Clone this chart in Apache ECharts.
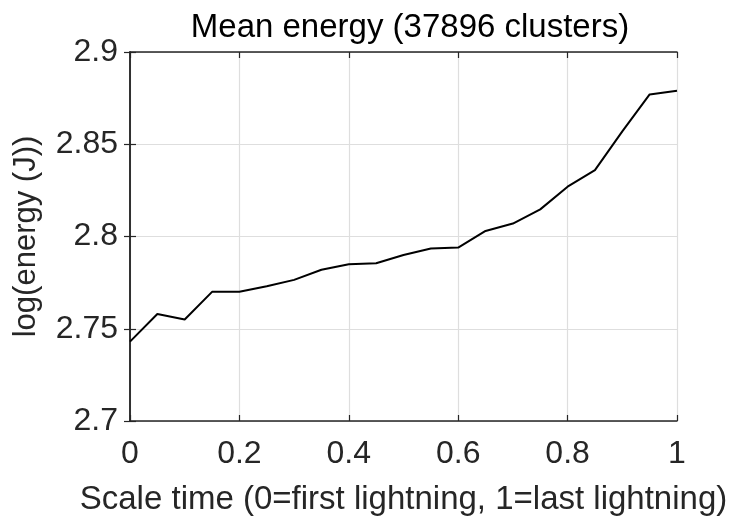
<!DOCTYPE html>
<html>
<head>
<meta charset="utf-8">
<script src="https://cdn.jsdelivr.net/npm/echarts@6/dist/echarts.min.js"></script>
<style>
  html, body { margin: 0; padding: 0; background: #fff; }
  #chart { width: 734px; height: 521px; }
</style>
</head>
<body>
<div id="chart"></div>
<script>
// Scaled time from first to last lightning of each cluster
const scaledTime = [0, 0.05, 0.1, 0.15, 0.2, 0.25, 0.3, 0.35, 0.4, 0.45, 0.5,
  0.55, 0.6, 0.65, 0.7, 0.75, 0.8, 0.85, 0.9, 0.95, 1];
// Mean log energy at each time step
const meanLogEnergy = [2.743, 2.758, 2.755, 2.770, 2.770, 2.773, 2.7765, 2.782, 2.785, 2.7855, 2.790,
  2.7935, 2.794, 2.803, 2.807, 2.8147, 2.827, 2.836, 2.857, 2.877, 2.879];
const xTicks = [0, 0.2, 0.4, 0.6, 0.8, 1];
const yTicks = [2.7, 2.75, 2.8, 2.85, 2.9];

const FONT = '"Liberation Sans", Arial, Helvetica, sans-serif';
const AXIS_COLOR = '#262626';
const GRID_COLOR = '#dedede';

const points = scaledTime.map((t, i) => [t, meanLogEnergy[i]]);

function fmt(v) {
  return String(parseFloat(v.toFixed(2)));
}

const tickStyle = { show: true, inside: true, length: 6, lineStyle: { color: AXIS_COLOR, width: 1.2 } };
const lineStyle = { show: true, lineStyle: { color: AXIS_COLOR, width: 1.5 } };

const chart = echarts.init(document.getElementById('chart'), null, { renderer: 'canvas' });
chart.setOption({
  animation: false,
  backgroundColor: '#ffffff',
  title: {
    text: 'Mean energy (37896 clusters)',
    left: 405,
    top: 6,
    textAlign: 'center',
    textStyle: { fontFamily: FONT, fontSize: 33, fontWeight: 'normal', color: '#000' }
  },
  grid: { left: 130, right: 57, top: 52, bottom: 97, containLabel: false },
  xAxis: [{
    type: 'value',
    min: xTicks[0],
    max: xTicks[xTicks.length - 1],
    interval: 0.2,
    position: 'bottom',
    name: 'Scale time (0=first lightning, 1=last lightning)',
    nameLocation: 'middle',
    nameGap: 62,
    nameTextStyle: { fontFamily: FONT, fontSize: 33, color: AXIS_COLOR },
    axisLine: lineStyle,
    axisTick: tickStyle,
    axisLabel: { fontFamily: FONT, fontSize: 32, color: AXIS_COLOR, margin: 17, formatter: fmt },
    splitLine: { show: true, lineStyle: { color: GRID_COLOR, width: 1.2 } }
  }, {
    type: 'value',
    min: xTicks[0],
    max: xTicks[xTicks.length - 1],
    interval: 0.2,
    position: 'top',
    axisLine: lineStyle,
    axisTick: tickStyle,
    axisLabel: { show: false },
    splitLine: { show: false }
  }],
  yAxis: [{
    type: 'value',
    min: yTicks[0],
    max: yTicks[yTicks.length - 1],
    interval: 0.05,
    position: 'left',
    name: 'log(energy (J))',
    nameLocation: 'middle',
    nameGap: 88,
    nameTextStyle: { fontFamily: FONT, fontSize: 31, color: AXIS_COLOR },
    axisLine: lineStyle,
    axisTick: tickStyle,
    axisLabel: { fontFamily: FONT, fontSize: 32, color: AXIS_COLOR, margin: 12, formatter: fmt },
    splitLine: { show: true, lineStyle: { color: GRID_COLOR, width: 1.2 } }
  }, {
    type: 'value',
    min: yTicks[0],
    max: yTicks[yTicks.length - 1],
    interval: 0.05,
    position: 'right',
    axisLine: lineStyle,
    axisTick: tickStyle,
    axisLabel: { show: false },
    splitLine: { show: false }
  }],
  series: [{
    type: 'line',
    data: points,
    xAxisIndex: 0,
    yAxisIndex: 0,
    symbol: 'none',
    lineStyle: { color: '#000', width: 2 },
    z: 3
  }]
});
</script>
</body>
</html>
